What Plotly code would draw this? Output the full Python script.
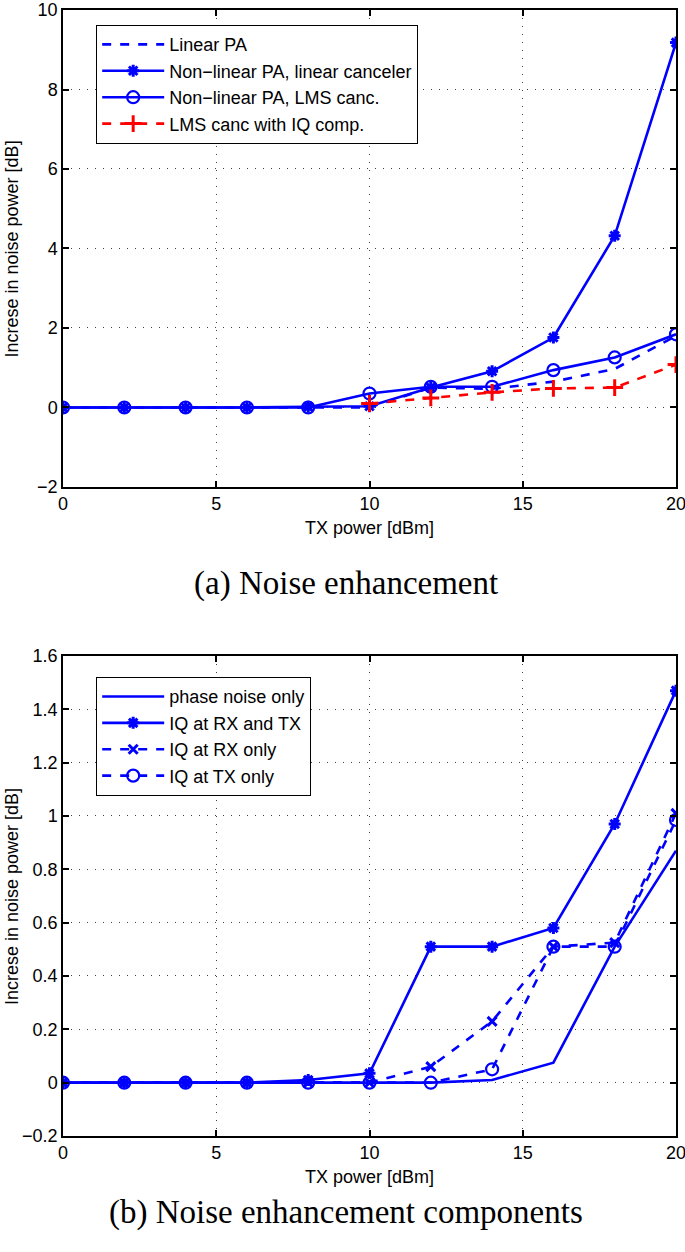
import plotly.graph_objects as go

# ---------------- data ----------------
tx_power = [0, 2, 4, 6, 8, 10, 12, 14, 16, 18, 20]

# (a) Noise enhancement
linear_pa = [0, 0, 0, 0, 0, 0, 0.50, 0.47, 0.65, 0.97, 1.80]
nonlin_linear_canc = [0, 0, 0, 0, 0.02, 0.03, 0.50, 0.91, 1.76, 4.32, 9.18]
nonlin_lms_canc = [0, 0, 0, 0, 0, 0.35, 0.52, 0.52, 0.94, 1.26, 1.84]
iq_tx = [10, 12, 14, 16, 18, 20]
lms_iq_comp = [0.10, 0.24, 0.38, 0.48, 0.50, 1.08]

# (b) Noise enhancement components
phase_noise_only = [0, 0, 0, 0, 0, 0, 0, 0.01, 0.075, 0.51, 0.87]
iq_rx_and_tx = [0, 0, 0, 0, 0.01, 0.035, 0.51, 0.51, 0.58, 0.97, 1.47]
iq_rx_only = [0, 0, 0, 0, 0, 0, 0.06, 0.23, 0.51, 0.525, 1.01]
iq_tx_only = [0, 0, 0, 0, 0, 0, 0, 0.05, 0.51, 0.51, 0.985]

x_ticks = [0, 5, 10, 15, 20]
y_ticks_a = [-2, 0, 2, 4, 6, 8, 10]
y_ticks_b = [-0.2, 0, 0.2, 0.4, 0.6, 0.8, 1.0, 1.2, 1.4, 1.6]
y_labels_b = ["\u22120.2", "0", "0.2", "0.4", "0.6", "0.8", "1", "1.2", "1.4", "1.6"]

BLUE = "rgb(0,0,255)"
RED = "rgb(255,0,0)"
LW = 2.6

fig = go.Figure()

# ---- top chart traces ----
fig.add_trace(go.Scatter(x=tx_power, y=linear_pa, mode="lines", name="Linear PA",
                         line=dict(color=BLUE, width=LW, dash="dash"),
                         xaxis="x", yaxis="y", legend="legend"))
fig.add_trace(go.Scatter(x=tx_power, y=nonlin_linear_canc, mode="lines+markers",
                         name="Non\u2212linear PA, linear canceler",
                         line=dict(color=BLUE, width=LW),
                         marker=dict(symbol="asterisk-open", size=10, color=BLUE,
                                     line=dict(color=BLUE, width=3)),
                         xaxis="x", yaxis="y", legend="legend"))
fig.add_trace(go.Scatter(x=tx_power, y=nonlin_lms_canc, mode="lines+markers",
                         name="Non\u2212linear PA, LMS canc.",
                         line=dict(color=BLUE, width=LW),
                         marker=dict(symbol="circle-open", size=12, color=BLUE,
                                     line=dict(color=BLUE, width=2.2)),
                         xaxis="x", yaxis="y", legend="legend"))
fig.add_trace(go.Scatter(x=iq_tx, y=lms_iq_comp, mode="lines+markers",
                         name="LMS canc with IQ comp.",
                         line=dict(color=RED, width=LW, dash="dash"),
                         marker=dict(symbol="cross-thin-open", size=12, color=RED,
                                     line=dict(color=RED, width=3)),
                         xaxis="x", yaxis="y", legend="legend"))

# ---- bottom chart traces ----
fig.add_trace(go.Scatter(x=tx_power, y=phase_noise_only, mode="lines",
                         name="phase noise only",
                         line=dict(color=BLUE, width=LW),
                         xaxis="x2", yaxis="y2", legend="legend2"))
fig.add_trace(go.Scatter(x=tx_power, y=iq_rx_and_tx, mode="lines+markers",
                         name="IQ at RX and TX",
                         line=dict(color=BLUE, width=LW),
                         marker=dict(symbol="asterisk-open", size=10, color=BLUE,
                                     line=dict(color=BLUE, width=3)),
                         xaxis="x2", yaxis="y2", legend="legend2"))
fig.add_trace(go.Scatter(x=tx_power, y=iq_rx_only, mode="lines+markers",
                         name="IQ at RX only",
                         line=dict(color=BLUE, width=LW, dash="dash"),
                         marker=dict(symbol="x-thin-open", size=9, color=BLUE,
                                     line=dict(color=BLUE, width=3)),
                         xaxis="x2", yaxis="y2", legend="legend2"))
fig.add_trace(go.Scatter(x=tx_power, y=iq_tx_only, mode="lines+markers",
                         name="IQ at TX only",
                         line=dict(color=BLUE, width=LW, dash="dash"),
                         marker=dict(symbol="circle-open", size=12, color=BLUE,
                                     line=dict(color=BLUE, width=2.2)),
                         xaxis="x2", yaxis="y2", legend="legend2"))

SANS = "Liberation Sans, Arial, sans-serif"
AX_FONT = dict(family=SANS, size=18, color="black")
TITLE_FONT = dict(family=SANS, size=18, color="black")
LEG_FONT = dict(family=SANS, size=18, color="black")

common_axis = dict(showline=True, linecolor="black", linewidth=1.5, mirror="ticks",
                   ticks="inside", ticklen=6, tickcolor="black", tickwidth=1.5,
                   showgrid=True, gridcolor="rgba(0,0,0,0.75)", gridwidth=1,
                   griddash="1px,7px", zeroline=False, tickfont=AX_FONT,
                   automargin=False, ticklabeloverflow="allow")

fig.update_layout(
    width=685, height=1252,
    margin=dict(l=63, r=9, t=10, b=116),
    paper_bgcolor="white", plot_bgcolor="white",
    font=dict(family=SANS, color="black"),
    xaxis=dict(domain=[0, 1], anchor="y", range=[0, 20], tickvals=x_ticks,
               title=dict(text="TX power [dBm]", font=TITLE_FONT, standoff=8),
               **common_axis),
    yaxis=dict(domain=[0.5764, 1], anchor="x", range=[-2, 10], tickvals=y_ticks_a,
               **common_axis),
    xaxis2=dict(domain=[0, 1], anchor="y2", range=[0, 20], tickvals=x_ticks,
                title=dict(text="TX power [dBm]", font=TITLE_FONT, standoff=8),
                **common_axis),
    yaxis2=dict(domain=[0, 0.4263], anchor="x2", range=[-0.2, 1.6],
                tickvals=y_ticks_b, ticktext=y_labels_b,
                **common_axis),
    legend=dict(x=0.0538, y=0.9867, xanchor="left", yanchor="top",
                bgcolor="white", bordercolor="black", borderwidth=1.2,
                font=LEG_FONT, itemwidth=62, tracegroupgap=0),
    legend2=dict(x=0.0538, y=0.4076, xanchor="left", yanchor="top",
                 bgcolor="white", bordercolor="black", borderwidth=1.2,
                 font=LEG_FONT, itemwidth=62, tracegroupgap=0),
    showlegend=True,
)

# y-axis titles
for yref in ("y domain", "y2 domain"):
    fig.add_annotation(text="Increse in noise power [dB]", xref="paper", yref=yref,
                       x=-0.0832, y=0.5, xanchor="center", yanchor="middle",
                       textangle=-90, showarrow=False, font=TITLE_FONT)

CAP_FONT = dict(family="Liberation Serif, Times New Roman, serif", size=33, color="black")
fig.add_annotation(text="(a) Noise enhancement", xref="paper", yref="paper",
                   x=0.4617, y=0.4911, xanchor="center", yanchor="middle",
                   showarrow=False, font=CAP_FONT)
fig.add_annotation(text="(b) Noise enhancement components", xref="paper", yref="paper",
                   x=0.4617, y=-0.0675, xanchor="center", yanchor="middle",
                   showarrow=False, font=CAP_FONT)

# remove the default page margin so the figure fills the window exactly
fig.write_html("out.html",
               config={"displayModeBar": False},
               post_script="document.body.style.margin='0';document.body.style.padding='0';")
